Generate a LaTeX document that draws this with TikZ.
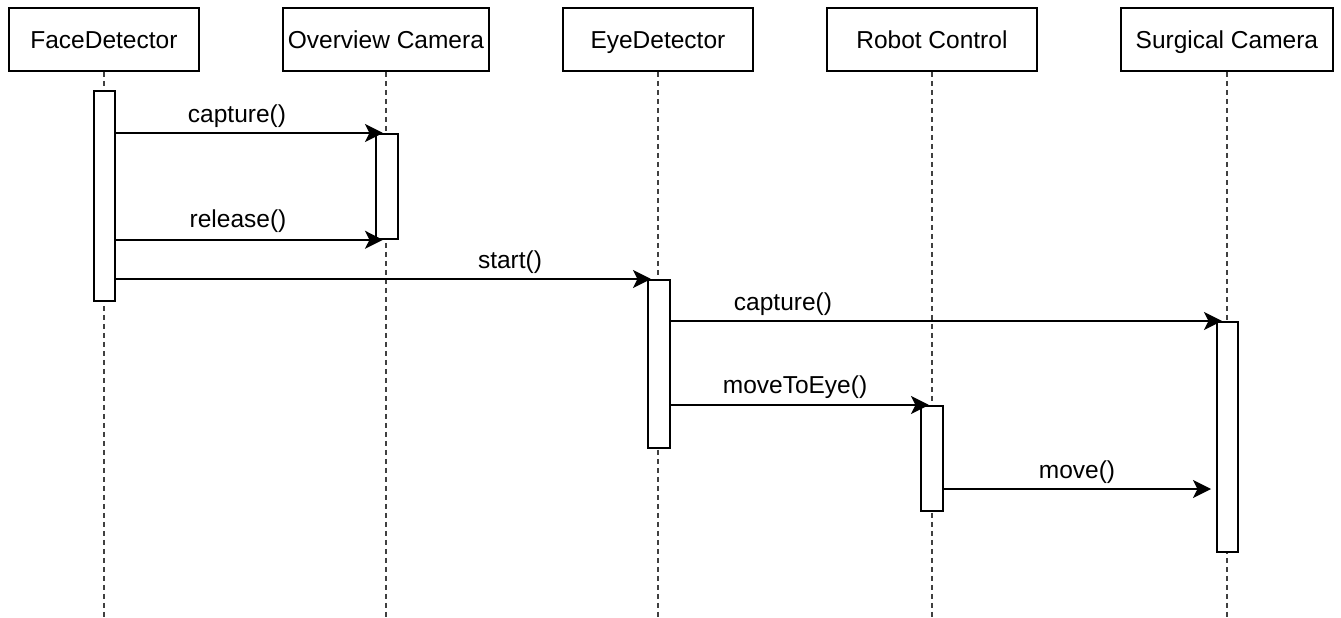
\documentclass[tikz,border=0pt]{standalone}
\usepackage{fontspec}
\setmainfont{Liberation Sans}
\usetikzlibrary{arrows.meta}
\begin{document}
\begin{tikzpicture}[x=1pt,y=-1pt,
  txt/.style={font=\fontsize{24.5}{28}\selectfont},
  head/.style={draw,line width=1.8pt,minimum height=63pt,inner sep=0pt,
    text height=18pt,text depth=0.5pt,anchor=north west,txt},
  bar/.style={draw,fill=white,line width=1.8pt,anchor=north west,inner sep=0pt,minimum width=21pt},
  life/.style={line width=1.5pt,black!75,dash pattern=on 5pt off 4pt},
  msg/.style={line width=1.8pt,-{Stealth[length=18pt,width=18pt,inset=4.5pt]}},
  lbl/.style={txt,anchor=base,inner sep=0pt}]
\useasboundingbox (0,0) rectangle (1341,618);

% participant heads
\node[head,minimum width=190pt] (fd) at (8,7)    {FaceDetector};
\node[head,minimum width=206pt] (oc) at (282,7)  {Overview Camera};
\node[head,minimum width=190pt] (ed) at (562,7)  {EyeDetector};
\node[head,minimum width=210pt] (rc) at (826,7)  {Robot Control};
\node[head,minimum width=212pt] (sc) at (1120,7) {Surgical Camera};

% lifelines
\coordinate (fdEnd) at (fd.south |- 0,618);
\coordinate (ocEnd) at (oc.south |- 0,618);
\coordinate (edEnd) at (ed.south |- 0,618);
\coordinate (rcEnd) at (rc.south |- 0,618);
\coordinate (scEnd) at (sc.south |- 0,618);
\draw[life] (fd.south) -- (fdEnd);
\draw[life] (oc.south) -- (ocEnd);
\draw[life] (ed.south) -- (edEnd);
\draw[life] (rc.south) -- (rcEnd);
\draw[life] (sc.south) -- (scEnd);

% activation bars
\node[bar,minimum height=210pt] (fdb) at (93,90)   {};
\node[bar,minimum height=105pt,minimum width=22pt] (ocb) at (375,133) {};
\node[bar,minimum height=168pt,minimum width=22pt] (edb) at (647,279) {};
\node[bar,minimum height=105pt,minimum width=22pt] (rcb) at (920,405) {};
\node[bar,minimum height=230pt] (scb) at (1216,321) {};

% messages
\draw[msg,shorten >=-8pt] (fdb.east |- ocb.north west) -- (ocb.north west);
\draw[msg,shorten >=-8pt] (fdb.east |- ocb.south west) -- (ocb.south west);
\draw[msg,shorten >=-4pt] (fdb.east |- edb.north west) -- (edb.north west);
\draw[msg,shorten >=-6pt] (edb.east |- scb.north west) -- (scb.north west);
\draw[msg,shorten >=-9pt] (edb.east |- rcb.north west) -- (rcb.north west);
\coordinate (mv) at (0,489);
\draw[msg,shorten >=5pt] (rcb.east |- mv) -- (scb.west |- mv);

% message labels
\node[lbl] (l1) at (237,122) {capture()};
\node[lbl] (l2) at (238,227) {release()};
\node[lbl] (l3) at (510,268) {start()};
\node[lbl] (l4) at (783,310) {capture()};
\node[lbl] (l5) at (795,393) {moveToEye()};
\node[lbl] (l6) at (1077,478) {move()};
\end{tikzpicture}
\end{document}
